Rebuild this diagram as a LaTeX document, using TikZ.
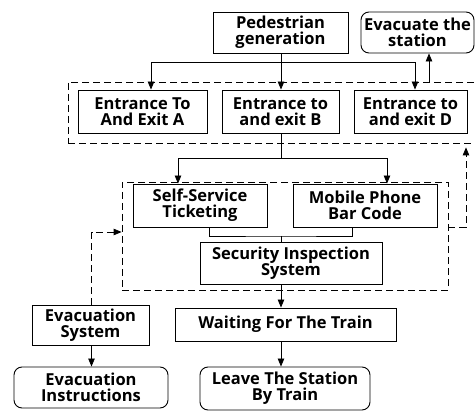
\documentclass[tikz,border=0pt]{standalone}
\usepackage{fontspec}
\setmainfont{Open Sans}
\usetikzlibrary{arrows.meta,positioning,calc}

\begin{document}
\begin{tikzpicture}[x=1pt,y=-1pt,
  box/.style={draw,line width=0.9pt,align=center,inner sep=0pt,
    font=\bfseries\fontsize{16.5}{16}\selectfont},
  term/.style={box,rounded corners=8pt},
  sz/.style 2 args={minimum width=#1pt,minimum height=#2pt},
  zone/.style={draw,line width=0.8pt,dash pattern=on 7pt off 4pt,inner sep=0pt},
  arr/.style={-{Triangle[length=8pt,width=6.5pt]},line width=0.8pt},
  darr/.style={arr,dash pattern=on 7pt off 4pt}]
\useasboundingbox (0,0) rectangle (475,412);
% groups
\node[zone,sz={409}{61}] (zone1) at (272.5,112.5) {};
\node[zone,sz={326}{108}] (zone2) at (285,236) {};
% nodes
\node[box,sz={135}{41}] (gen) at (280.5,32.5) {Pedestrian\\generation};
\node[term,sz={113}{41}] (evac) at (417.5,32.5) {Evacuate the\\station};
\node[box,sz={129}{43}] (entA) at (142.5,111.5) {Entrance To\\And Exit A};
\node[box,sz={117}{43}] (entB) at (280.5,111.5) {Entrance to\\and exit B};
\node[box,sz={113}{43}] (entD) at (410.5,111.5) {Entrance to\\and exit D};
\node[box,sz={134}{43}] (self) at (200,205.5) {Self-Service\\Ticketing};
\node[box,sz={144}{43}] (mobile) at (365,205.5) {Mobile Phone\\Bar Code};
\node[box,sz={182}{42}] (sec) at (291,263) {Security Inspection\\System};
\node[box,sz={221}{33}] (wait) at (285.5,324.5) {Waiting For The Train};
\node[term,sz={170}{43}] (leave) at (285,388.5) {Leave The Station\\By Train};
\node[box,sz={117}{40}] (evsys) at (90.5,325) {Evacuation\\System};
\node[term,sz={154}{41}] (evins) at (91,387.5) {Evacuation\\Instructions};
% connectors
\coordinate (ax) at (281,0);
\coordinate (s1) at (281,62);
\coordinate (s2) at (281,158);
\coordinate (s3) at (281,236);
\coordinate (rt) at (466,0);
\draw[arr] (gen.south -| ax) -- (entB.north -| ax);
\draw[arr] (s1) -| ([xshift=8.5pt]entA.north);
\draw[arr] (s1) -| ([xshift=4.5pt]entD.north);
\draw[arr] ([xshift=11.5pt]evac.south |- zone1.north) -- ([xshift=11.5pt]evac.south);
\draw[line width=0.8pt] (entB.south -| ax) -- (s2);
\draw[arr] (s2) -| ([xshift=-22pt]self.north);
\draw[arr] (s2) -| ([xshift=22pt]mobile.north);
\draw[line width=0.6pt] ([xshift=9pt]self.south) |- (s3) -| ([xshift=-13pt]mobile.south);
\draw[line width=0.6pt] (s3) -- (s3 |- sec.north);
\draw[arr] (sec.south -| ax) -- (wait.north -| ax);
\draw[arr] (wait.south -| ax) -- (leave.north -| ax);
\draw[arr] ([xshift=1pt]evsys.south) -- ([xshift=1pt]evsys.south |- evins.north);
\draw[darr] ([xshift=1pt]evsys.north) |- ([yshift=4pt]zone2.west);
\draw[darr,shorten >=4pt] ([yshift=9pt]zone2.east) -| (rt |- zone1.south);
\end{tikzpicture}
\end{document}
